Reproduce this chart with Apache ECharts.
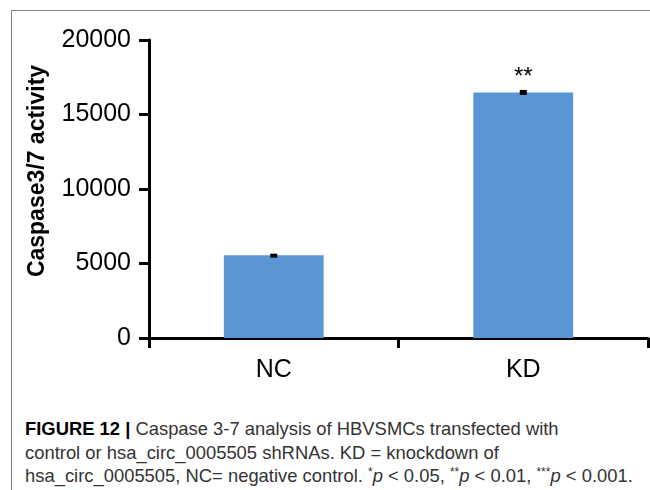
<!DOCTYPE html>
<html>
<head>
<meta charset="utf-8">
<script src="https://cdn.jsdelivr.net/npm/echarts@6/dist/echarts.min.js"></script>
<style>
  body { margin: 0; background: #fff; }
  #frame { position: absolute; left: 11px; top: 10px; width: 660px; height: 500px;
           border-top: 1px solid #808080; border-left: 1px solid #808080; }
  #main { position: absolute; left: 0; top: 0; width: 650px; height: 400px; }
  #caption { position: absolute; left: 25px; top: 417px; width: 625px; white-space: nowrap;
             font-family: "Liberation Sans", Arial, sans-serif;
             font-size: 18.4px; line-height: 23.5px; color: #333; }
  #caption b { color: #000; }
  #caption sup { font-size: 12px; vertical-align: 6px; line-height: 0; }
</style>
</head>
<body>
<div id="frame"></div>
<div id="main"></div>
<div id="caption"><b>FIGURE 12 |</b> Caspase 3-7 analysis of HBVSMCs transfected with<br>control or hsa_circ_0005505 shRNAs. KD = knockdown of<br>hsa_circ_0005505, NC= negative control. <sup>*</sup><i>p</i> &lt; 0.05, <sup>**</sup><i>p</i> &lt; 0.01, <sup>***</sup><i>p</i> &lt; 0.001.</div>
<script>
// 数据
var categories = ['NC', 'KD'];
var values = [5550, 16480];
var errors = [110, 170];
var marks = ['', '**'];
var yTicks = [0, 5000, 10000, 15000, 20000];

var chart = echarts.init(document.getElementById('main'));

chart.setOption({
	animation: false,
	grid: { left: 149, right: 2, top: 40, bottom: 62 },
	xAxis: {
		type: 'category',
		data: categories,
		axisLine: { lineStyle: { color: '#000', width: 3 } },
		axisTick: { show: true, length: 10, lineStyle: { color: '#000', width: 3 } },
		axisLabel: { color: '#000', fontSize: 25, fontFamily: 'Liberation Sans, Arial', margin: 20 }
	},
	yAxis: {
		type: 'value',
		min: yTicks[0],
		max: yTicks[yTicks.length - 1],
		interval: 5000,
		name: 'Caspase3/7 activity',
		nameLocation: 'middle',
		nameGap: 100,
		nameTextStyle: {
			color: '#000', fontSize: 23, fontWeight: 'bold',
			fontFamily: 'Liberation Sans, Arial', padding: [0, 0, 0, 36]
		},
		axisLine: { show: true, lineStyle: { color: '#000', width: 3 } },
		axisTick: { show: true, length: 10, lineStyle: { color: '#000', width: 3 } },
		splitLine: { show: false },
		axisLabel: {
			color: '#000', fontSize: 25, fontFamily: 'Liberation Sans, Arial', margin: 18,
			formatter: function (v) { return String(v); }
		}
	},
	series: [{
		type: 'bar',
		data: values,
		barWidth: '40%',
		itemStyle: { color: '#5a96d4' },
		label: {
			show: true,
			position: 'top',
			distance: 3,
			color: '#000',
			fontSize: 24,
			fontFamily: 'Liberation Sans, Arial',
			formatter: function (p) { return marks[p.dataIndex]; }
		}
	}, {
		// 误差线
		type: 'custom',
		data: values.map(function (v, i) { return [i, v - errors[i], v + errors[i]]; }),
		renderItem: function (params, api) {
			var lo = api.coord([api.value(0), api.value(1)]);
			var hi = api.coord([api.value(0), api.value(2)]);
			return {
				type: 'rect',
				shape: { x: lo[0] - 3.5, y: hi[1], width: 7, height: Math.max(lo[1] - hi[1], 4) },
				style: { fill: '#000' }
			};
		},
		z: 5
	}]
});
</script>
</body>
</html>
